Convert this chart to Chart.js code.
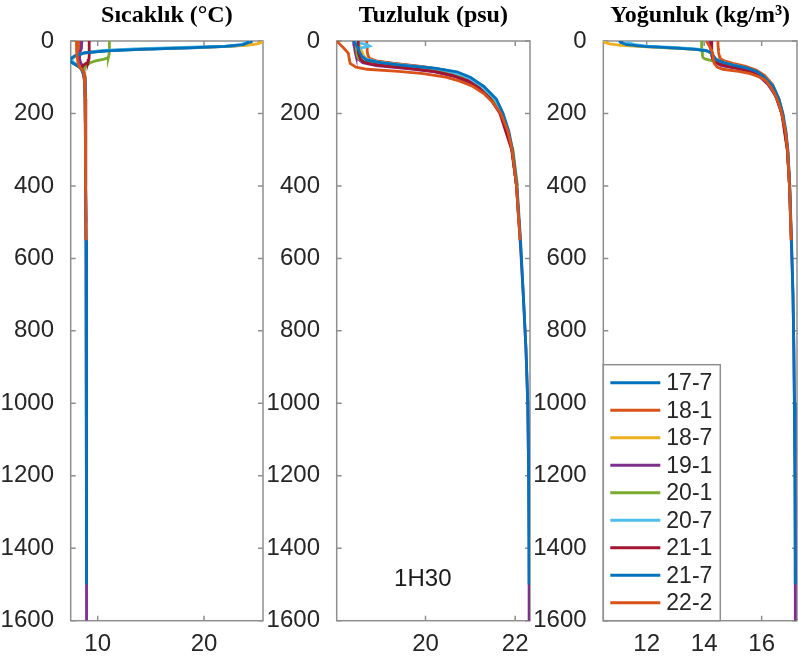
<!DOCTYPE html>
<html lang="tr">
<head>
<meta charset="utf-8">
<title>1H30 profilleri</title>
<script src="https://cdn.jsdelivr.net/npm/chart.js@4.4.1/dist/chart.umd.min.js"></script>
<style>
  html, body { margin: 0; padding: 0; background: #fff; }
  #figure { position: relative; width: 798px; height: 661px; overflow: hidden; }
  #figure canvas { position: absolute; top: 0; }
</style>
</head>
<body>
<div id="figure">
  <canvas id="temp-chart" width="266" height="661" style="left:0"></canvas>
  <canvas id="sal-chart" width="266" height="661" style="left:266px"></canvas>
  <canvas id="dens-chart" width="266" height="661" style="left:532px"></canvas>
</div>
<script>
// cruise / cast labels, in plotting order (last one ends up on top)
const stations = ["17-7", "18-1", "18-7", "19-1", "20-1", "20-7", "21-1", "21-7", "22-2"];
const lineColors = ["#0072BD", "#D95319", "#EDB120", "#7E2F8E", "#77AC30", "#4DBEEE", "#A2142F", "#0072BD", "#D95319"];

const depthTicks = [0, 200, 400, 600, 800, 1000, 1200, 1400, 1600];
const tempTicks = [10, 20];
const salTicks = [20, 22];
const densTicks = [12, 14, 16];

// depth (m) of each sample, one row per station
const depths = [
  [0, 5, 10, 14, 18, 22, 26, 32, 40, 50, 58, 65, 72, 80, 95, 120, 160, 200, 300, 400, 500],
  [0, 10, 20, 30, 40, 48, 55, 62, 70, 80, 95, 120, 160, 200, 300, 400, 550],
  [0, 4, 8, 12, 16, 20, 24, 28, 34, 42, 52, 60, 68, 76, 85, 100, 125, 160, 200, 300],
  [0, 10, 20, 30, 40, 50, 60, 68, 76, 85, 100, 120, 150, 200, 250, 300, 400, 550, 700, 850, 1000, 1200, 1400, 1600],
  [0, 10, 20, 30, 40, 46, 50, 55, 60, 66, 72, 80, 95, 120, 160, 200, 300, 400],
  [0, 5, 10, 14, 18, 22, 26, 32, 40, 50, 58, 65, 72, 80, 95, 120, 160, 200, 300, 400],
  [0, 10, 20, 30, 40, 50, 58, 64, 70, 76, 84, 95, 110, 130, 160, 200, 300, 400],
  [0, 5, 10, 15, 19, 23, 27, 33, 42, 52, 60, 67, 75, 85, 100, 125, 160, 200, 250, 300, 400, 550, 700, 850, 1000, 1200, 1500],
  [0, 10, 20, 34, 50, 62, 72, 78, 84, 90, 100, 110, 125, 145, 170, 200, 250, 300, 400, 550]
];

// temperature (°C)
const temps = [
  [24.5, 24.4, 24.0, 22.8, 19.5, 15.5, 11.5, 9.0, 7.9, 7.4, 7.5, 7.9, 8.3, 8.5, 8.7, 8.8, 8.83, 8.85, 8.87, 8.88, 8.9],
  [8.3, 8.3, 8.3, 8.28, 8.25, 8.2, 8.25, 8.4, 8.55, 8.65, 8.75, 8.8, 8.83, 8.85, 8.87, 8.88, 8.9],
  [25.5, 25.4, 25.0, 24.0, 21.0, 16.5, 12.5, 10.0, 8.6, 7.9, 7.5, 7.7, 8.1, 8.45, 8.6, 8.72, 8.8, 8.83, 8.85, 8.87],
  [8.5, 8.5, 8.45, 8.35, 8.3, 8.3, 8.4, 8.55, 8.65, 8.7, 8.75, 8.8, 8.82, 8.85, 8.86, 8.87, 8.88, 8.9, 8.92, 8.93, 8.95, 8.96, 8.97, 8.98],
  [11.1, 11.1, 11.1, 11.1, 11.05, 11.0, 10.6, 9.8, 9.3, 9.0, 8.8, 8.7, 8.75, 8.8, 8.83, 8.85, 8.87, 8.88],
  [24.0, 23.9, 23.5, 22.0, 18.0, 13.5, 10.5, 8.8, 7.9, 7.5, 7.7, 8.0, 8.35, 8.55, 8.7, 8.8, 8.83, 8.85, 8.87, 8.88],
  [9.2, 9.2, 9.2, 9.2, 9.2, 9.18, 9.1, 8.8, 8.55, 8.5, 8.6, 8.7, 8.75, 8.8, 8.83, 8.85, 8.87, 8.88],
  [24.2, 24.1, 23.7, 22.0, 18.5, 14.0, 10.8, 8.7, 7.8, 7.35, 7.6, 8.0, 8.4, 8.6, 8.75, 8.8, 8.83, 8.85, 8.86, 8.87, 8.89, 8.9, 8.92, 8.94, 8.95, 8.97, 8.98],
  [8.0, 8.0, 8.02, 8.05, 8.1, 8.15, 8.3, 8.5, 8.65, 8.72, 8.76, 8.78, 8.8, 8.82, 8.83, 8.85, 8.86, 8.87, 8.88, 8.9]
];

// salinity (psu)
const salinities = [
  [18.42, 18.44, 18.46, 18.48, 18.5, 18.5, 18.52, 18.55, 18.58, 18.7, 19.0, 19.5, 20.0, 20.4, 20.85, 21.2, 21.55, 21.72, 21.93, 22.03, 22.08],
  [18.69, 18.69, 18.7, 18.7, 18.72, 18.75, 18.9, 19.3, 19.9, 20.4, 20.85, 21.2, 21.55, 21.72, 21.93, 22.03, 22.11],
  [18.5, 18.5, 18.52, 18.52, 18.54, 18.55, 18.56, 18.58, 18.6, 18.62, 18.72, 19.0, 19.55, 20.1, 20.55, 20.95, 21.3, 21.56, 21.72, 21.93],
  [18.4, 18.4, 18.42, 18.43, 18.45, 18.5, 18.6, 18.9, 19.6, 20.2, 20.7, 21.05, 21.4, 21.68, 21.84, 21.93, 22.03, 22.11, 22.18, 22.24, 22.28, 22.3, 22.31, 22.31],
  [18.45, 18.45, 18.46, 18.47, 18.48, 18.5, 18.52, 18.6, 18.8, 19.2, 19.7, 20.2, 20.75, 21.15, 21.52, 21.7, 21.95, 22.05],
  [18.45, 18.5, 18.7, 18.75, 18.6, 18.5, 18.5, 18.52, 18.56, 18.68, 18.95, 19.4, 19.95, 20.4, 20.85, 21.2, 21.55, 21.72, 21.93, 22.03],
  [18.5, 18.5, 18.5, 18.5, 18.52, 18.55, 18.62, 18.8, 19.2, 19.7, 20.2, 20.6, 20.95, 21.2, 21.45, 21.66, 21.92, 22.03],
  [18.4, 18.42, 18.45, 18.47, 18.5, 18.5, 18.52, 18.54, 18.58, 18.68, 19.0, 19.5, 20.2, 20.7, 21.0, 21.3, 21.58, 21.73, 21.86, 21.94, 22.04, 22.12, 22.18, 22.24, 22.28, 22.3, 22.31],
  [18.02, 18.1, 18.18, 18.28, 18.3, 18.32, 18.45, 18.7, 19.4, 19.95, 20.45, 20.75, 21.05, 21.3, 21.5, 21.68, 21.84, 21.93, 22.03, 22.11]
];

// density anomaly (kg/m3)
const densities = [
  [11.05, 11.1, 11.25, 11.7, 12.6, 13.5, 14.05, 14.22, 14.3, 14.4, 14.65, 15.0, 15.35, 15.65, 16.0, 16.35, 16.58, 16.72, 16.9, 16.97, 17.01],
  [14.48, 14.48, 14.49, 14.5, 14.52, 14.55, 14.7, 15.0, 15.45, 15.8, 16.1, 16.38, 16.6, 16.73, 16.9, 16.97, 17.03],
  [10.5, 10.55, 10.7, 11.1, 12.0, 13.1, 13.8, 14.1, 14.25, 14.32, 14.42, 14.65, 15.1, 15.5, 15.8, 16.1, 16.4, 16.6, 16.73, 16.9],
  [14.2, 14.2, 14.22, 14.24, 14.26, 14.3, 14.4, 14.6, 15.15, 15.6, 15.95, 16.22, 16.48, 16.7, 16.83, 16.9, 16.97, 17.03, 17.09, 17.12, 17.14, 17.16, 17.17, 17.17],
  [13.91, 13.91, 13.92, 13.93, 13.94, 13.96, 14.05, 14.3, 14.5, 14.8, 15.2, 15.6, 16.0, 16.33, 16.57, 16.72, 16.91, 16.98],
  [11.3, 11.35, 11.6, 12.0, 12.9, 13.7, 14.05, 14.22, 14.3, 14.4, 14.6, 14.95, 15.35, 15.65, 16.0, 16.35, 16.58, 16.72, 16.9, 16.97],
  [14.26, 14.26, 14.26, 14.27, 14.28, 14.3, 14.38, 14.55, 14.85, 15.25, 15.6, 15.9, 16.15, 16.35, 16.53, 16.7, 16.89, 16.97],
  [11.1, 11.15, 11.3, 11.9, 12.9, 13.7, 14.1, 14.25, 14.32, 14.42, 14.7, 15.05, 15.5, 15.85, 16.1, 16.4, 16.6, 16.74, 16.85, 16.91, 16.98, 17.04, 17.09, 17.12, 17.14, 17.16, 17.17],
  [14.08, 14.15, 14.22, 14.3, 14.32, 14.35, 14.45, 14.65, 15.2, 15.6, 15.95, 16.15, 16.3, 16.45, 16.58, 16.7, 16.83, 16.9, 16.97, 17.03]
];

const stationName = "1H30";

const tickFont = { family: "'Liberation Sans', Arial, sans-serif", size: 24 };
const tickColor = "#262626";
const frameColor = "#8f8f8f";

// MATLAB-like box with inward ticks on all four sides
const axisFrame = {
  id: "axisFrame",
  beforeDatasetsDraw(chart) {
    const { ctx, chartArea: a, scales } = chart;
    ctx.save();
    ctx.strokeStyle = frameColor;
    ctx.lineWidth = 1.5;
    ctx.strokeRect(a.left, a.top, a.width, a.height);
    ctx.beginPath();
    scales.x.ticks.forEach((t) => {
      const px = scales.x.getPixelForValue(t.value);
      ctx.moveTo(px, a.bottom);
      ctx.lineTo(px, a.bottom - 5);
      ctx.moveTo(px, a.top);
      ctx.lineTo(px, a.top + 5);
    });
    scales.y.ticks.forEach((t) => {
      const py = scales.y.getPixelForValue(t.value);
      ctx.moveTo(a.left, py);
      ctx.lineTo(a.left + 5, py);
      ctx.moveTo(a.right, py);
      ctx.lineTo(a.right - 5, py);
    });
    ctx.stroke();
    ctx.restore();
  }
};

const stationLegend = {
  id: "stationLegend",
  afterDraw(chart) {
    const { ctx, chartArea: a } = chart;
    const boxW = 117;
    const boxH = 256;
    const top = a.bottom - boxH;
    ctx.save();
    ctx.fillStyle = "#fff";
    ctx.fillRect(a.left, top, boxW, boxH);
    ctx.strokeStyle = frameColor;
    ctx.lineWidth = 1.5;
    ctx.strokeRect(a.left, top, boxW, boxH);
    ctx.font = "23px 'Liberation Sans', Arial, sans-serif";
    ctx.textBaseline = "middle";
    ctx.fillStyle = tickColor;
    chart.data.datasets.forEach((ds, i) => {
      const rowY = top + 18 + i * 27.5;
      ctx.strokeStyle = ds.borderColor;
      ctx.lineWidth = 3;
      ctx.beginPath();
      ctx.moveTo(a.left + 7, rowY);
      ctx.lineTo(a.left + 57, rowY);
      ctx.stroke();
      ctx.fillText(ds.label, a.left + 63, rowY + 1);
    });
    ctx.restore();
  }
};

const stationTag = {
  id: "stationTag",
  afterDraw(chart) {
    const { ctx, scales } = chart;
    ctx.save();
    ctx.font = "24px 'Liberation Sans', Arial, sans-serif";
    ctx.fillStyle = "#1a1a1a";
    ctx.textAlign = "center";
    ctx.textBaseline = "middle";
    ctx.fillText(stationName, scales.x.getPixelForValue(19.94), scales.y.getPixelForValue(1487));
    ctx.restore();
  }
};

function buildDatasets(values) {
  return stations.map((label, i) => ({
    label,
    data: depths[i].map((d, k) => ({ x: values[i][k], y: d })),
    showLine: true,
    borderColor: lineColors[i],
    backgroundColor: lineColors[i],
    borderWidth: 2.8,
    pointRadius: 0,
    tension: 0,
    fill: false,
    order: stations.length - i
  }));
}

function makePanel(canvasId, title, values, xMin, xMax, xTicks, axisWidth, padRight, extraPlugins) {
  return new Chart(document.getElementById(canvasId), {
    type: "scatter",
    data: { datasets: buildDatasets(values) },
    options: {
      responsive: false,
      animation: false,
      events: [],
      layout: { padding: { left: 0, right: padRight, top: 0, bottom: 0 } },
      plugins: {
        legend: { display: false },
        tooltip: { enabled: false },
        title: {
          display: true,
          text: title,
          fullSize: false,
          color: "#000",
          font: { family: "'Liberation Serif', 'Times New Roman', serif", size: 24, weight: "bold" },
          padding: { top: 1, bottom: 11.2 }
        }
      },
      scales: {
        x: {
          type: "linear",
          min: xMin,
          max: xMax,
          afterBuildTicks: (axis) => { axis.ticks = xTicks.map((v) => ({ value: v })); },
          afterFit: (axis) => { axis.height = 40.3; },
          grid: { display: false },
          border: { display: false },
          ticks: { font: tickFont, color: tickColor, padding: 1, maxRotation: 0, callback: (v) => String(v) }
        },
        y: {
          type: "linear",
          reverse: true,
          min: 0,
          max: 1600,
          afterBuildTicks: (axis) => { axis.ticks = depthTicks.map((v) => ({ value: v })); },
          afterFit: (axis) => { axis.width = axisWidth; },
          grid: { display: false },
          border: { display: false },
          ticks: { font: tickFont, color: tickColor, padding: 8.7, callback: (v) => String(v) }
        }
      }
    },
    plugins: [axisFrame, ...extraPlugins]
  });
}

makePanel("temp-chart", "Sıcaklık (°C)", temps, 7.46, 25.55, tempTicks, 70.7, 3, []);
makePanel("sal-chart", "Tuzluluk (psu)", salinities, 18.02, 22.33, salTicks, 70.7, 2, [stationTag]);
makePanel("dens-chart", "Yoğunluk (kg/m³)", densities, 10.49, 17.23, densTicks, 71.3, 1, [stationLegend]);
</script>
</body>
</html>
